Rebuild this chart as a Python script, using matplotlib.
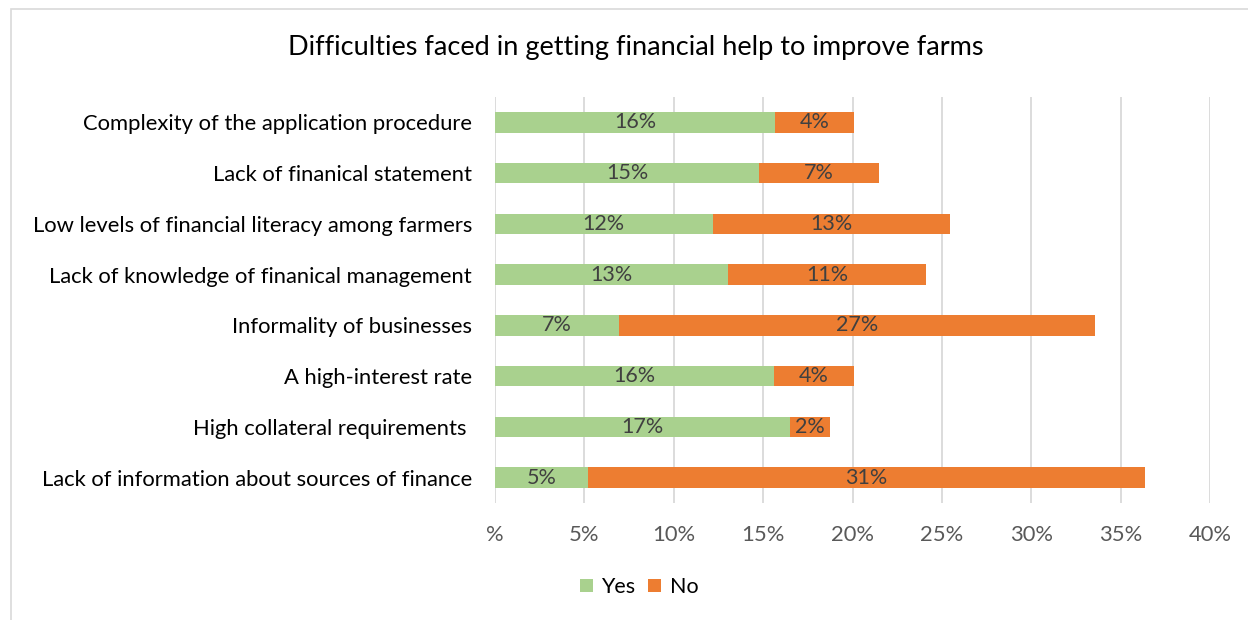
"""
Stacked bar chart of difficulties faced in getting financial help
"""

import numpy as np
import matplotlib.pyplot as plt
from matplotlib.patches import Rectangle

plt.rcParams.update({
    'font.family': ['Lato', 'DejaVu Sans'],
    'font.size': 15.8,
})

categories = [
    'Complexity of the application procedure',
    'Lack of finanical statement',
    'Low levels of financial literacy among farmers',
    'Lack of knowledge of finanical management',
    'Informality of businesses',
    'A high-interest rate',
    'High collateral requirements ',
    'Lack of information about sources of finance',
]

# share of respondents (%)
yes_vals = [15.67, 14.78, 12.17, 13.03, 6.96, 15.62, 16.52, 5.21]
no_vals = [4.44, 6.70, 13.30, 11.10, 26.60, 4.45, 2.22, 31.13]

xticks = [0, 5, 10, 15, 20, 25, 30, 35, 40]
xtick_labels = ['%', '5%', '10%', '15%', '20%', '25%', '30%', '35%', '40%']

green = '#A9D18E'
orange = '#ED7D31'
text_col = '#404040'

fig = plt.figure(figsize=(12.48, 6.2), dpi=100)

# chart frame
fig.patches.append(Rectangle((11/1248, -0.1), 1.2, 1.1 - 9/620, transform=fig.transFigure,
                             fill=False, edgecolor='#D9D9D9', linewidth=1.2))

ax = fig.add_axes([495/1248, 117/620, 715/1248, 406/620])

y = np.arange(len(categories))
yes = np.array(yes_vals)
no = np.array(no_vals)

ax.barh(y, yes, height=0.4, color=green, label='Yes', zorder=2)
ax.barh(y, no, left=yes, height=0.4, color=orange, label='No', zorder=2)

# value labels centred in each segment
for i in range(len(categories)):
    ax.text(yes[i] / 2, y[i], f'{yes[i]:.0f}%', ha='center', va='center',
            fontsize=15.5, color=text_col, zorder=3)
    ax.text(yes[i] + no[i] / 2, y[i], f'{no[i]:.0f}%', ha='center', va='center',
            fontsize=15.5, color=text_col, zorder=3)

ax.set_xlim(0, 40)
ax.set_ylim(len(categories) - 0.5, -0.5)
ax.set_yticks(y)
ax.set_yticklabels(categories, fontsize=15.8, color='black')
ax.set_xticks(xticks)
ax.set_xticklabels(xtick_labels, fontsize=15.8, color='#595959')
ax.tick_params(axis='both', length=0)
ax.tick_params(axis='x', pad=16)
ax.tick_params(axis='y', pad=16.5)
ax.xaxis.grid(True, color='#D9D9D9', linewidth=1.3, zorder=0)
for s in ax.spines.values():
    s.set_visible(False)

fig.text(636/1248, 1 - 48/620, 'Difficulties faced in getting financial help to improve farms',
         ha='center', va='center', fontsize=19.5, color='black')

fig.legend(loc='center', bbox_to_anchor=(639/1248, 1 - 587/620), ncol=2, frameon=False,
           fontsize=15.5, handlelength=0.6, handleheight=0.6, handletextpad=0.4,
           columnspacing=0.6)

fig.savefig('out.png', dpi=100)
